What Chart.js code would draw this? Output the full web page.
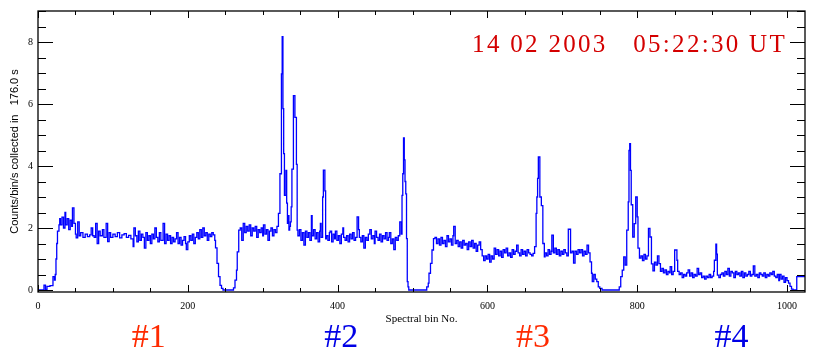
<!DOCTYPE html>
<html>
<head>
<meta charset="utf-8">
<script src="https://cdn.jsdelivr.net/npm/chart.js@4"></script>
<style>
  html, body { margin: 0; padding: 0; background: #fff; }
  canvas { display: block; }
</style>
</head>
<body>
<canvas id="spectrum" width="813" height="353"></canvas>
<script>
(function () {
    'use strict';

    // spectral bin where each histogram step starts
    var spectrumBins = [
        0, 8, 10, 12, 16, 20, 22, 23, 24, 25, 26, 28, 29,
        30, 32, 34, 36, 37, 39, 41, 43, 45, 46, 48, 50, 51, 53, 55,
        57, 60, 63, 66, 69, 71, 73, 75, 77, 79, 81, 83, 86, 88, 91, 93, 95,
        97, 100, 103, 106, 109, 112, 115, 118, 121, 124, 127, 128, 130, 132, 134, 136, 138, 140, 142, 144, 146,
        148, 150, 152, 154, 156, 158, 160, 162, 164, 167, 169, 171, 173,
        175, 177, 179, 181, 183, 185, 187, 189, 191, 193, 195, 197, 198, 200, 202, 204,
        206, 208, 210, 212, 214, 216, 218, 220, 222, 224, 226, 228, 230, 232, 234, 236,
        237, 239, 241, 243, 245, 247, 261, 263, 265, 266, 268,
        270, 272, 274, 276, 278, 280, 282, 284, 286, 288, 290, 292, 294,
        296, 298, 300, 301, 303, 305, 307, 309, 311, 313, 315, 317, 319,
        321, 323, 325, 326, 327, 328, 329, 331, 332, 333, 334, 335, 336, 337, 338, 339, 341, 343, 345, 346,
        347, 349, 351, 353, 355, 357, 359, 361, 363, 365, 366, 368, 370, 372, 374, 376, 377, 378,
        380, 381, 383, 384, 385, 387, 389, 390, 392, 394, 396, 397, 399, 401, 403, 405, 407, 408,
        410, 412, 414, 416, 418, 420, 422, 424, 426, 428, 429, 431, 433, 435, 437, 439, 441, 443, 445,
        447, 449, 450, 452, 454, 456, 458, 460, 462, 464, 466, 468, 469, 471, 473, 475, 477, 479, 481,
        483, 485, 486, 487, 488, 489, 490, 491, 492, 493, 494, 495,
        519, 521, 522, 524, 526, 528, 530, 532, 534, 536, 538, 540, 542, 544, 546, 548, 550, 552, 554, 555, 557,
        559, 561, 563, 565, 567, 569, 571, 573, 575, 577, 579, 581, 583, 585, 587, 589, 591,
        593, 595, 597, 599, 601, 603, 605, 607,
        609, 611, 613, 615, 617, 619, 621, 623, 625, 627, 629, 631, 633,
        635, 637, 639, 641, 643, 645, 647, 649, 651, 653, 655, 657, 659,
        661, 663, 665, 666, 667, 668, 670, 672, 674, 676,
        677, 679, 681, 683, 685, 686, 688, 690, 692, 694, 696, 698, 700, 702, 704, 706,
        708, 711, 713, 715, 717, 719, 721, 723, 725, 727, 729, 731, 733, 735,
        737, 739, 740, 742, 744, 746, 748, 750, 753,
        776, 778, 780, 782, 784, 786, 788, 789, 790, 791, 792, 794, 796, 798, 800, 801,
        803, 805, 807, 809, 811, 813, 815, 817, 819, 821, 823, 825, 827, 829, 831, 833, 835, 837, 839, 841,
        843, 844, 846, 848, 850, 853, 854, 856, 858, 860, 862, 864, 866, 868, 870, 872, 874, 876, 878,
        880, 882, 884, 886, 888, 890, 892, 894, 896, 898, 900, 902, 903, 905, 906, 907,
        909, 911, 913, 915, 917, 919, 921, 923, 925, 927, 929, 931, 933, 935, 937, 939, 941, 943, 945, 947,
        949, 951, 953, 955, 957, 959, 961, 963, 965, 967, 969, 971, 973, 975, 977, 979, 981, 983, 985, 987,
        989, 990, 992, 994, 996, 998, 1000, 1002, 1004, 1006, 1008, 1013, 1024
    ];

    // counts/bin/s for each step above
    var spectrumCounts = [
        0, 0.16, 0, 0.12, 0.14, 0.43, 0.32, 0.5, 1.0, 1.5, 1.9, 2.1, 2.3,
        2.1, 2.35, 2.0, 2.5, 2.1, 2.3, 1.95, 2.25, 2.05, 2.65, 2.15, 1.8, 1.68, 2.2, 1.75,
        1.85, 1.7, 1.8, 1.72, 1.78, 2.0, 1.75, 1.7, 2.15, 1.5, 1.9, 1.75, 1.95, 1.7, 2.15, 1.56, 1.85,
        1.7, 1.8, 1.72, 1.85, 1.68, 1.78, 1.82, 1.7, 1.76, 1.65, 1.4, 2.0, 1.75, 1.55, 1.9, 1.6, 1.8, 1.7, 1.35, 1.85, 1.6,
        1.75, 1.5, 1.8, 1.65, 2.0, 1.7, 1.55, 1.85, 1.6, 2.15, 1.5, 1.8, 1.6,
        1.75, 1.5, 1.7, 1.55, 1.65, 1.85, 1.5, 1.7, 1.45, 1.6, 1.72, 1.5, 1.3, 1.55, 1.75, 1.6,
        1.8, 1.5, 1.7, 1.85, 1.65, 1.95, 1.7, 2.0, 1.75, 1.85, 1.6, 1.8, 1.72, 1.85, 1.78, 1.6,
        1.36, 0.86, 0.43, 0.15, 0.05, 0, 0.07, 0.32, 0.64, 1.23, 1.93,
        2.0, 1.6, 2.15, 1.85, 2.05, 1.9, 2.1, 1.75, 2.0, 1.9, 2.05, 1.7, 1.95,
        1.85, 2.0, 1.75, 2.1, 1.8, 1.95, 1.6, 1.9, 2.0, 1.75, 1.95, 1.85, 2.05,
        2.47, 3.75, 6.97, 8.17, 5.85, 4.4, 3.05, 3.86, 2.8, 2.15, 2.4, 1.93, 2.05, 2.2, 2.68, 3.9, 6.27, 5.57, 4.05, 1.93,
        1.75, 1.95, 1.6, 1.85, 1.45, 1.9, 1.7, 1.85, 1.6, 2.4, 1.75, 1.95, 1.65, 1.85, 1.55, 1.9, 2.15, 1.7,
        3.0, 3.87, 3.2, 1.65, 1.75, 1.6, 1.85, 1.9, 1.55, 1.8, 1.65, 1.9, 1.6, 1.75, 1.5, 1.8, 2.0, 1.7,
        1.6, 1.75, 1.55, 1.8, 1.65, 1.85, 1.6, 1.7, 2.36, 1.95, 1.7, 1.55, 1.75, 1.35, 1.7, 1.6, 1.8, 1.95, 1.65,
        1.75, 1.5, 1.9, 1.7, 1.6, 1.8, 1.55, 1.75, 1.65, 1.85, 1.6, 1.7, 1.85, 1.5, 1.65, 1.3, 1.7, 1.6, 1.75,
        2.2, 1.8, 3.05, 3.75, 4.91, 4.2, 3.5, 3.1, 1.66, 0.27, 0.1, 0,
        0.1, 0.22, 0.54, 0.86, 1.29, 1.66, 1.7, 1.5, 1.65, 1.45, 1.7, 1.5, 1.6, 1.4, 1.75, 1.55, 1.65, 1.45, 1.75, 2.05, 1.5,
        1.6, 1.4, 1.55, 1.35, 1.6, 1.45, 1.5, 1.3, 1.55, 1.4, 1.6, 1.35, 1.5, 1.25, 1.45, 1.55, 1.3,
        1.1, 0.95, 1.1, 1.0, 1.15, 0.9, 1.1, 1.0,
        1.35, 1.15, 1.3, 1.1, 1.25, 1.05, 1.3, 1.2, 1.35, 1.1, 1.2, 1.05, 1.3,
        1.15, 1.25, 1.45, 1.2, 1.1, 1.3, 1.15, 1.25, 1.1, 1.3, 1.2, 1.15, 1.1,
        1.18, 1.4, 2.47, 3.0, 3.6, 4.29, 3.0, 2.72, 1.5, 1.07,
        1.2, 1.1, 1.3, 1.15, 1.25, 1.77, 1.2, 1.35, 1.15, 1.3, 1.1, 1.25, 1.15, 1.3, 1.2, 1.1,
        1.96, 1.2, 1.25, 0.87, 1.25, 1.15, 1.3, 1.2, 1.3, 1.1, 1.25, 1.15, 1.45, 1.2,
        0.91, 0.54, 0.27, 0.5, 0.35, 0.27, 0.1, 0.05, 0,
        0.1, 0.43, 0.64, 1.07, 0.8, 1.93, 2.84, 4.5, 4.72, 3.86, 2.75, 1.71, 2.14, 3.0, 2.36, 1.35,
        1.03, 1.1, 0.95, 1.15, 1.0, 1.1, 1.99, 1.71, 0.84, 0.62, 0.9, 0.8, 1.1, 0.85, 0.6, 0.7, 0.55, 0.65, 0.5, 0.6,
        0.55, 0.75, 0.5, 0.6, 1.29, 0.96, 0.6, 0.5, 0.55, 0.4, 0.5, 0.45, 0.55, 0.65, 0.45, 0.55, 0.4, 0.5, 0.45,
        0.7, 0.5, 0.55, 0.4, 0.45, 0.35, 0.45, 0.4, 0.5, 0.4, 0.45, 0.6, 0.96, 1.48, 1.16, 0.48,
        0.4, 0.5, 0.55, 0.45, 0.6, 0.5, 0.7, 0.45, 0.6, 0.55, 0.4, 0.6, 0.5, 0.55, 0.45, 0.6, 0.4, 0.55, 0.45, 0.5,
        0.6, 0.45, 0.5, 0.78, 0.45, 0.5, 0.4, 0.55, 0.5, 0.45, 0.55, 0.4, 0.5, 0.45, 0.55, 0.5, 0.6, 0.45, 0.4, 0.5,
        0.3, 0.5, 0.35, 0.45, 0.25, 0.4, 0.3, 0.22, 0.12, 0.03, 0, 0.43, 0.43
    ];

    var xLabelTicks = [0, 200, 400, 600, 800, 1000];
    var yLabelTicks = [0, 2, 4, 6, 8];
    var xMinorStep = 50;
    var yMinorStep = 0.5;

    var titleText = '14 02 2003   05:22:30 UT';
    var segmentLabels = ['#1', '#2', '#3', '#4'];
    var segmentLabelBins = [148, 405, 661, 926];
    var segmentColors = ['#ff2a00', '#0000e6', '#ff2a00', '#0000e6'];

    if (spectrumBins.length !== spectrumCounts.length) {
        console.error('bins/counts length mismatch', spectrumBins.length, spectrumCounts.length);
    }

    var points = [];
    for (var i = 0; i < spectrumBins.length; i++) {
        points.push({ x: spectrumBins[i], y: spectrumCounts[i] });
    }

    // IDL-style box with inward ticks on all four sides
    var frameTicks = {
        id: 'frameTicks',
        afterDraw: function (chart) {
            var ctx = chart.ctx;
            var a = chart.chartArea;
            var xs = chart.scales.x;
            var ys = chart.scales.y;
            var v, px, big, len;
            ctx.save();
            ctx.strokeStyle = '#000';
            ctx.lineWidth = 1.3;
            ctx.strokeRect(a.left, a.top, a.right - a.left, a.bottom - a.top);
            ctx.lineWidth = 1;
            ctx.beginPath();
            for (v = 0; v <= xs.max; v += xMinorStep) {
                px = Math.round(xs.getPixelForValue(v)) + 0.5;
                big = xLabelTicks.indexOf(v) !== -1;
                len = big ? 7 : 4;
                ctx.moveTo(px, a.bottom);
                ctx.lineTo(px, a.bottom - len);
                ctx.moveTo(px, a.top);
                ctx.lineTo(px, a.top + len);
            }
            for (v = 0; v <= ys.max; v += yMinorStep) {
                px = Math.round(ys.getPixelForValue(v)) + 0.5;
                big = yLabelTicks.indexOf(v) !== -1;
                len = big ? 15 : 8;
                ctx.moveTo(a.left, px);
                ctx.lineTo(a.left + len, px);
                ctx.moveTo(a.right, px);
                ctx.lineTo(a.right - len, px);
            }
            ctx.stroke();
            ctx.restore();
        }
    };

    var annotations = {
        id: 'annotations',
        afterDraw: function (chart) {
            var ctx = chart.ctx;
            var xs = chart.scales.x;
            ctx.save();
            ctx.fillStyle = '#d40000';
            ctx.font = '25px "Liberation Serif", "Times New Roman", serif';
            ctx.letterSpacing = '2.3px';
            ctx.textAlign = 'right';
            ctx.textBaseline = 'alphabetic';
            ctx.fillText(titleText, 787, 52);

            ctx.letterSpacing = '0px';
            ctx.font = '34px "Liberation Serif", "Times New Roman", serif';
            ctx.textAlign = 'center';
            for (var k = 0; k < segmentLabels.length; k++) {
                ctx.fillStyle = segmentColors[k];
                ctx.fillText(segmentLabels[k], xs.getPixelForValue(segmentLabelBins[k]), 347);
            }
            ctx.restore();
        }
    };

    var tickFont = { family: '"Liberation Serif", serif', size: 10 };

    new Chart(document.getElementById('spectrum'), {
        type: 'line',
        data: {
            datasets: [{
                data: points,
                borderColor: '#0000ff',
                borderWidth: 1.3,
                pointRadius: 0,
                fill: false,
                stepped: true,
                tension: 0
            }]
        },
        options: {
            responsive: false,
            devicePixelRatio: 1,
            animation: false,
            layout: { padding: { left: 0, right: 8, top: 10, bottom: 0 } },
            plugins: {
                legend: { display: false },
                tooltip: { enabled: false },
                title: { display: false }
            },
            scales: {
                x: {
                    type: 'linear',
                    min: 0,
                    max: 1024,
                    afterBuildTicks: function (scale) {
                        scale.ticks = xLabelTicks.map(function (t) { return { value: t }; });
                    },
                    afterFit: function (scale) { scale.height = 61; },
                    grid: { display: false, drawTicks: false },
                    border: { display: false },
                    ticks: {
                        color: '#000',
                        font: tickFont,
                        padding: 8,
                        maxRotation: 0,
                        autoSkip: false,
                        callback: function (value) { return String(value); }
                    },
                    title: {
                        display: true,
                        text: 'Spectral bin No.',
                        color: '#000',
                        font: { family: '"Liberation Serif", serif', size: 11 },
                        padding: { top: 0, bottom: 27 }
                    }
                },
                y: {
                    min: -0.064,
                    max: 9,
                    afterBuildTicks: function (scale) {
                        scale.ticks = yLabelTicks.map(function (t) { return { value: t }; });
                    },
                    afterFit: function (scale) { scale.width = 38; },
                    grid: { display: false, drawTicks: false },
                    border: { display: false },
                    ticks: {
                        color: '#000',
                        font: tickFont,
                        padding: 5,
                        autoSkip: false,
                        callback: function (value) { return String(value); }
                    },
                    title: {
                        display: true,
                        text: 'Counts/bin/s collected in   176.0 s',
                        color: '#000',
                        font: { family: '"Liberation Sans", sans-serif', size: 11 },
                        padding: { top: 8, bottom: 0 }
                    }
                }
            }
        },
        plugins: [frameTicks, annotations]
    });
})();
</script>
</body>
</html>
